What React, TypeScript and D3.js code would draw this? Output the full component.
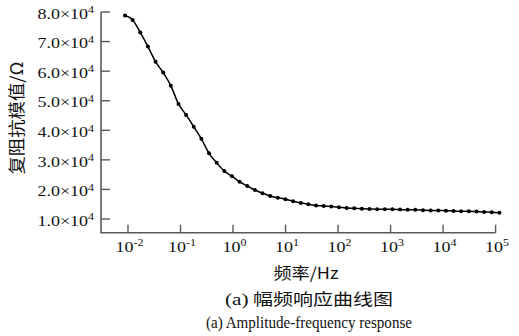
import React from "react";
import * as d3 from "d3";

// frequency (Hz) and impedance modulus (Ohm)
const freqs = [
  0.00877, 0.01226, 0.01714, 0.02396, 0.0335, 0.04683, 0.06546, 0.09152,
  0.1279, 0.1788, 0.25, 0.3495, 0.4887, 0.6832, 0.955, 1.335, 1.866, 2.609,
  3.648, 5.1, 7.129, 9.966, 13.93, 19.48, 27.23, 38.07, 53.21, 74.39, 104.0,
  145.4, 203.2, 284.1, 397.2, 555.3, 776.2, 1085, 1517, 2121, 2965, 4145,
  5794, 8100, 11324, 15830, 22130, 30940, 43250, 60460, 84530, 118170,
];
const impedance = [
  78800, 77300, 73100, 68300, 63200, 59500, 55100, 48900, 45200, 41200,
  37100, 32200, 29000, 26200, 24500, 22600, 21200, 19800, 18700, 17800,
  17200, 16700, 16000, 15400, 15000, 14600, 14400, 14200, 14000, 13700,
  13600, 13500, 13400, 13300, 13300, 13300, 13200, 13100, 13100, 13000,
  12900, 12900, 12800, 12700, 12600, 12600, 12500, 12400, 12300, 12100,
];
const yTicks = [10000, 20000, 30000, 40000, 50000, 60000, 70000, 80000];
const yTickMantissa = ["1.0", "2.0", "3.0", "4.0", "5.0", "6.0", "7.0", "8.0"];
const xTicks = [0.01, 0.1, 1, 10, 100, 1000, 10000, 100000];
const xTickExponent = ["-2", "-1", "0", "1", "2", "3", "4", "5"];

const width = 519;
const height = 336;
const serif = "'Liberation Serif', 'Times New Roman', serif";
const cjk = "'Noto Sans CJK SC', sans-serif";
const sx = 1.2; // the original type is a little wider than Liberation Serif

export default function App() {
  const x = d3
    .scaleLog()
    .domain([Math.pow(10, -2.514), 1e5])
    .range([101, 495.6]);
  const y = d3.scaleLinear().domain([5370, 80000]).range([232.7, 12]);

  const pts = freqs.map((f, i) => [x(f), y(impedance[i])] as [number, number]);
  const line = d3.line().curve(d3.curveMonotoneX)(pts) || "";

  const axisColor = "#5a5a5a";

  return (
    <svg
      width={width}
      height={height}
      style={{ position: "absolute", left: 0, top: 0, background: "#fff" }}
    >
      <rect width={width} height={height} fill="#fff" />
      {/* axes */}
      <path
        d={`M${x.range()[0]},${y(80000)}V${y.range()[0]}H${x.range()[1]}`}
        fill="none"
        stroke={axisColor}
        strokeWidth={1.6}
      />
      {yTicks.map((t, i) => (
        <g key={"y" + t}>
          <line
            x1={x.range()[0]}
            x2={x.range()[0] + 9}
            y1={y(t)}
            y2={y(t)}
            stroke={axisColor}
            strokeWidth={1.4}
          />
          <text
            transform={`translate(94,${y(t) + 6.7}) scale(${sx},1)`}
            textAnchor="end"
            fontFamily={serif}
            fontSize={15}
            fill="#111"
          >
            {yTickMantissa[i]}×10
            <tspan fontSize={10} dy={-5.5}>
              4
            </tspan>
          </text>
        </g>
      ))}
      {xTicks.map((t, i) => (
        <g key={"x" + t}>
          <line
            x1={x(t)}
            x2={x(t)}
            y1={y.range()[0]}
            y2={y.range()[0] - 8}
            stroke={axisColor}
            strokeWidth={1.4}
          />
          <text
            transform={`translate(${x(t) + 1.5},251.7) scale(${sx},1)`}
            textAnchor="middle"
            fontFamily={serif}
            fontSize={15}
            fill="#111"
          >
            10
            <tspan fontSize={10} dy={-5.5}>
              {xTickExponent[i]}
            </tspan>
          </text>
        </g>
      ))}

      {/* curve */}
      <path d={line} fill="none" stroke="#000" strokeWidth={1.5} />
      {pts.map((p, i) => (
        <circle key={i} cx={p[0]} cy={p[1]} r={2} fill="#000" />
      ))}

      {/* titles */}
      <text
        transform="translate(23,118) rotate(-90)"
        textAnchor="middle"
        fontFamily={cjk}
        fontSize={17}
        fill="#111"
        textLength={113}
        lengthAdjust="spacingAndGlyphs"
      >
        复阻抗模值/Ω
      </text>
      <text
        x={306}
        y={279}
        textAnchor="middle"
        fontFamily={cjk}
        fontSize={16}
        fill="#111"
        textLength={65}
        lengthAdjust="spacingAndGlyphs"
      >
        频率/Hz
      </text>
      <text
        x={309}
        y={305}
        textAnchor="middle"
        fontFamily={cjk}
        fontSize={16}
        fill="#111"
        textLength={168}
        lengthAdjust="spacingAndGlyphs"
      >
        <tspan fontFamily={serif} fontSize={17}>
          (a)
        </tspan>{" "}
        幅频响应曲线图
      </text>
      <text
        x={309}
        y={328}
        textAnchor="middle"
        fontFamily={serif}
        fontSize={17}
        fill="#111"
        textLength={206}
        lengthAdjust="spacingAndGlyphs"
      >
        (a) Amplitude-frequency response
      </text>
    </svg>
  );
}
